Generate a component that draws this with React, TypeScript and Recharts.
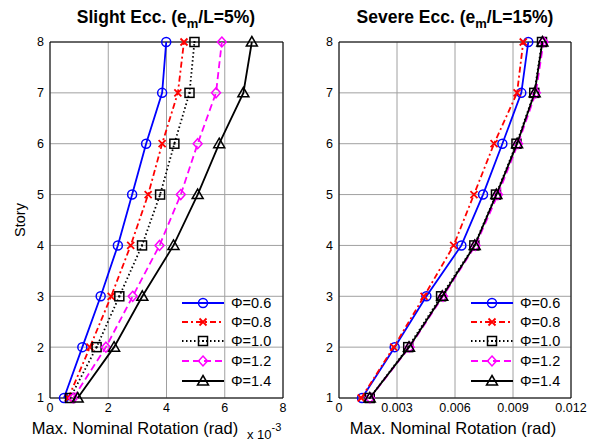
import React from 'react'
import { ScatterChart, Scatter, XAxis, YAxis, CartesianGrid, ReferenceLine } from 'recharts'

// ─── Data ─────────────────────────────────────────────────────────────────────

const stories = [1, 2, 3, 4, 5, 6, 7, 8]

// Slight eccentricity, rotation in units of 1e-3 rad
const slight06 = [0.48, 1.11, 1.74, 2.33, 2.82, 3.30, 3.85, 3.99]
const slight08 = [0.63, 1.37, 2.10, 2.77, 3.37, 3.85, 4.39, 4.60]
const slight10 = [0.69, 1.60, 2.38, 3.16, 3.78, 4.27, 4.79, 4.96]
const slight12 = [0.80, 1.92, 2.84, 3.76, 4.49, 5.07, 5.70, 5.90]
const slight14 = [0.95, 2.20, 3.17, 4.24, 5.07, 5.81, 6.64, 6.93]

// Severe eccentricity, rotation in rad
const severe06 = [0.00119, 0.00288, 0.00452, 0.00633, 0.00745, 0.00845, 0.00943, 0.00979]
const severe08 = [0.00115, 0.00283, 0.00440, 0.00593, 0.00698, 0.00802, 0.00921, 0.00953]
const severe10 = [0.00159, 0.00358, 0.00528, 0.00700, 0.00812, 0.00918, 0.01010, 0.01050]
const severe12 = [0.00160, 0.00365, 0.00538, 0.00706, 0.00822, 0.00926, 0.01018, 0.01058]
const severe14 = [0.00159, 0.00362, 0.00534, 0.00702, 0.00814, 0.00921, 0.01012, 0.01052]

const slightTicks = [0, 2, 4, 6, 8]
const severeTicks = [0, 0.003, 0.006, 0.009, 0.012]
const phiLabels = ['Φ=0.6', 'Φ=0.8', 'Φ=1.0', 'Φ=1.2', 'Φ=1.4']

// ─── Styles ───────────────────────────────────────────────────────────────────

const FONT = '"Liberation Sans", Arial, sans-serif'
const GRID = '#a0a0a0'

type MarkerKind = 'circle' | 'x' | 'square' | 'diamond' | 'triangle'

const seriesStyle: { color: string; dash?: string; marker: MarkerKind }[] = [
  { color: '#0000FF', marker: 'circle' },
  { color: '#FF0000', dash: '6 3 2 3', marker: 'x' },
  { color: '#000000', dash: '1.5 2.5', marker: 'square' },
  { color: '#FF00FF', dash: '7 4', marker: 'diamond' },
  { color: '#000000', marker: 'triangle' },
]

function Marker({ kind, cx, cy, color }: { kind: MarkerKind; cx: number; cy: number; color: string }) {
  const sw = 1.5
  switch (kind) {
    case 'circle':
      return <circle cx={cx} cy={cy} r={4.5} fill="none" stroke={color} strokeWidth={sw} />
    case 'x':
      return (
        <path d={`M${cx - 3.5},${cy - 3.5}L${cx + 3.5},${cy + 3.5}M${cx - 3.5},${cy + 3.5}L${cx + 3.5},${cy - 3.5}`}
          stroke={color} strokeWidth={sw + 0.3} fill="none" />
      )
    case 'square':
      return (
        <g>
          <rect x={cx - 4.5} y={cy - 4.5} width={9} height={9} fill="none" stroke={color} strokeWidth={sw} />
          <rect x={cx - 1} y={cy - 1} width={2} height={2} fill={color} />
        </g>
      )
    case 'diamond':
      return <path d={`M${cx},${cy - 5}L${cx + 4.5},${cy}L${cx},${cy + 5}L${cx - 4.5},${cy}Z`} fill="none" stroke={color} strokeWidth={sw} />
    case 'triangle':
      return <path d={`M${cx},${cy - 5.5}L${cx + 5.5},${cy + 4}L${cx - 5.5},${cy + 4}Z`} fill="none" stroke={color} strokeWidth={sw} />
  }
}

function toPoints(xs: number[]) {
  return xs.map((x, i) => ({ x, y: stories[i] }))
}

// ─── Panel ────────────────────────────────────────────────────────────────────

function Panel({ series, ticks, max, fmt, width, marginLeft, yWidth, marginRight }: {
  series: number[][]; ticks: number[]; max: number; fmt: (v: number) => string
  width: number; marginLeft: number; yWidth: number; marginRight: number
}) {
  const tick = { fontFamily: FONT, fontSize: 12.5, fill: '#000' }
  return (
    <ScatterChart width={width} height={441} margin={{ top: 42, right: marginRight, bottom: 13, left: marginLeft }}>
      <CartesianGrid stroke={GRID} strokeWidth={1} />
      <XAxis type="number" dataKey="x" domain={[0, max]} ticks={ticks} tickFormatter={fmt}
        stroke="#000" tick={tick} tickLine={false} tickSize={3} height={30} allowDataOverflow />
      <YAxis type="number" dataKey="y" domain={[1, 8]} ticks={stories} width={yWidth}
        stroke="#000" tick={tick} tickLine={false} tickSize={4} />
      <ReferenceLine x={max} stroke="#000" />
      <ReferenceLine y={8} stroke="#000" />
      {series.map((s, i) => {
        const st = seriesStyle[i]
        return (
          <Scatter key={i} data={toPoints(s)} isAnimationActive={false}
            fill={st.color}
            line={{ stroke: st.color, strokeWidth: 1.8, strokeDasharray: st.dash }}
            shape={(p: any) => <Marker kind={st.marker} cx={p.cx} cy={p.cy} color={st.color} />}
          />
        )
      })}
    </ScatterChart>
  )
}

function LegendBox({ x }: { x: number }) {
  const rows = [303, 322, 341, 361, 381]
  return (
    <g>
      {seriesStyle.map((st, i) => (
        <g key={i}>
          <line x1={x} x2={x + 42} y1={rows[i]} y2={rows[i]} stroke={st.color} strokeWidth={1.8} strokeDasharray={st.dash} />
          <Marker kind={st.marker} cx={x + 21} cy={rows[i]} color={st.color} />
          <text x={x + 49} y={rows[i] + 5} fontFamily={FONT} fontSize={14.5}>{phiLabels[i]}</text>
        </g>
      ))}
    </g>
  )
}

// ─── Main ─────────────────────────────────────────────────────────────────────

export default function App() {
  return (
    <div style={{ position: 'absolute', left: 0, top: 0, width: 597, height: 441, background: '#fff' }}>
      <div style={{ position: 'absolute', left: 0, top: 0 }}>
        <Panel series={[slight06, slight08, slight10, slight12, slight14]} ticks={slightTicks} max={8}
          fmt={v => String(v)} width={300} marginLeft={10} yWidth={40} marginRight={17} />
      </div>
      <div style={{ position: 'absolute', left: 300, top: 0 }}>
        <Panel series={[severe06, severe08, severe10, severe12, severe14]} ticks={severeTicks} max={0.012}
          fmt={v => (v === 0 ? '0' : v.toFixed(3))} width={297} marginLeft={9} yWidth={30} marginRight={26} />
      </div>
      <svg width={597} height={441} style={{ position: 'absolute', left: 0, top: 0, pointerEvents: 'none' }}>
        <text x={166} y={23} textAnchor="middle" fontFamily={FONT} fontSize={17.5} fontWeight="bold">
          Slight Ecc. (e<tspan fontSize={13} dy={5}>m</tspan><tspan dy={-5}>/L=5%)</tspan>
        </text>
        <text x={455} y={23} textAnchor="middle" fontFamily={FONT} fontSize={17.5} fontWeight="bold">
          Severe Ecc. (e<tspan fontSize={13} dy={5}>m</tspan><tspan dy={-5}>/L=15%)</tspan>
        </text>
        <text x={21} y={220} textAnchor="middle" fontFamily={FONT} fontSize={14.5}
          transform="rotate(-90 21 220)" dominantBaseline="middle">Story</text>
        <text x={135} y={434} textAnchor="middle" fontFamily={FONT} fontSize={16.5}>Max. Nominal Rotation (rad)</text>
        <text x={247} y={439} fontFamily={FONT} fontSize={13}>x 10<tspan fontSize={11} dy={-8}>-3</tspan></text>
        <text x={453} y={434} textAnchor="middle" fontFamily={FONT} fontSize={16.5}>Max. Nominal Rotation (rad)</text>
        <LegendBox x={182} />
        <LegendBox x={471} />
      </svg>
    </div>
  )
}
